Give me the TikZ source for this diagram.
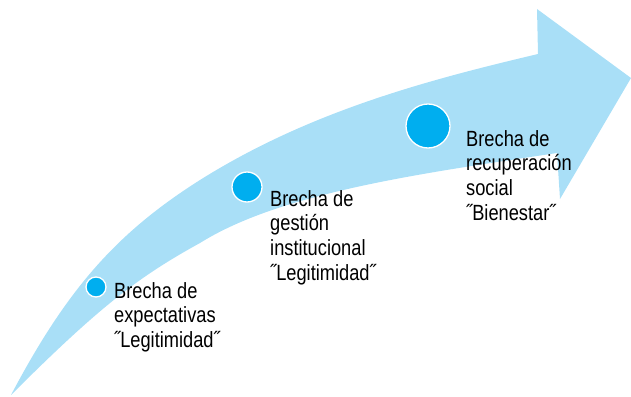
\documentclass[tikz,border=0pt]{standalone}
\usepackage{fontspec}
\setmainfont{Liberation Sans}[FakeStretch=0.83]
\usepackage{tikz}
\definecolor{arrowblue}{HTML}{A9DFF7}
\definecolor{dotblue}{HTML}{00AEEF}

\begin{document}
\begin{tikzpicture}[x=1pt, y=-1pt,
  gapdot/.style = {shape=circle, fill=dotblue, draw=white, line width=1.3pt, inner sep=0pt},
  gaptext/.style = {anchor=north west, inner sep=0pt, align=left, font=\fontsize{22}{24.8}\selectfont}]
        \useasboundingbox (0,0) rectangle (631,396);
        % the curved arrow
        \coordinate (tail) at (11,395);
        \fill[arrowblue] (tail) .. controls (68,287) and (118,232) .. (200,180)
          .. controls (310,111) and (428,80) .. (538,54)
          -- (537,9) -- (631,78) -- (560,199) -- (557,153)
          .. controls (417,174) and (280,193) .. (200,243)
          .. controls (140,276) and (101,305) .. (tail) -- cycle;
        \node[gapdot, minimum size=20pt] (b1) at (96,287) {};
        \node[gapdot, minimum size=30pt] (b2) at (247,187) {};
        \node[gapdot, minimum size=44pt] (b3) at (428,126) {};
        \node[gaptext] (t1) at (114,282) {Brecha de\\expectativas\\˝Legitimidad˝};
        \node[gaptext] (t2) at (270,190) {Brecha de\\gestión\\institucional\\˝Legitimidad˝};
        \node[gaptext] (t3) at (466,130) {Brecha de\\recuperación\\social\\˝Bienestar˝};
\end{tikzpicture}
\end{document}
